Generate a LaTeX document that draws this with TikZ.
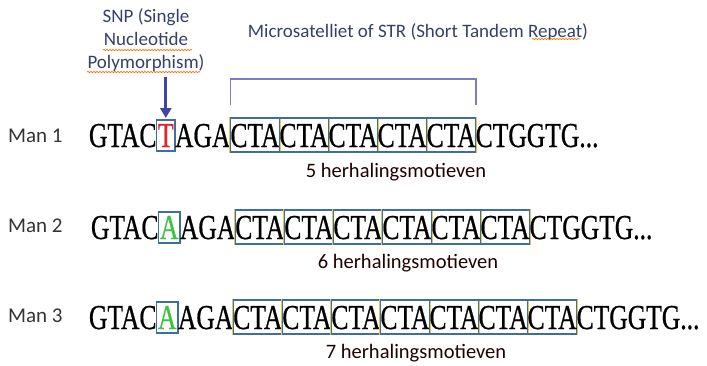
\documentclass[tikz,border=0pt]{standalone}
\usepackage{fontspec}
\setmainfont{Carlito}
\newfontfamily\seqfont[FakeStretch=0.73,FakeBold=0.6]{Liberation Serif}
\usetikzlibrary{positioning,arrows.meta,decorations.pathmorphing}
\definecolor{boxblue}{HTML}{3F6D9C}
\definecolor{boxgold}{HTML}{E6C84A}
\definecolor{bracketcol}{HTML}{7E7CC6}
\definecolor{arrowcol}{HTML}{3D47A3}
\definecolor{notecol}{HTML}{34406A}
\definecolor{snpred}{HTML}{E0262A}
\definecolor{snpgreen}{HTML}{3EC246}

\begin{document}
\begin{tikzpicture}[x=1pt,y=-1pt,
    seq/.style={inner sep=0pt, outer sep=0pt, text height=29pt, text depth=5pt, font=\seqfont\fontsize{35}{40}\selectfont},
    rptbox/.style={seq, draw=boxblue, line width=1.2pt, preaction={draw=boxgold, line width=2pt}},
    snpbox/.style={seq, draw=boxblue, line width=1.3pt, inner xsep=1.5pt, text height=27pt, text depth=4pt},
    note/.style={text=notecol, font=\fontsize{19}{23}\selectfont, inner sep=0pt},
    manlabel/.style={text=black!80, font=\fontsize{21}{24}\selectfont, inner sep=0pt, anchor=base west},
    count/.style={text=black!88!red, font=\fontsize{20.5}{24}\selectfont, inner sep=0pt},
    spell/.style={draw=orange!85!red, line width=0.7pt, decorate, decoration={snake, amplitude=0.6pt, segment length=3pt}}
    ]
    \useasboundingbox (0,0) rectangle (707,365);

    \node [note, align=center] (snp) at (146,40) {SNP (Single\\Nucleotide\\Polymorphism)};
    \node [note] (msat) at (418,32) {Microsatelliet of STR (Short Tandem Repeat)};
    \draw [spell] (103,50) -- (192,50);
    \draw [spell] (87,72) -- (200,72);
    \draw [spell] (532,39) -- (580,39);

    % Man 1
    \node [manlabel] (l1) at (8,142) {Man 1};
    \node [seq, anchor=base west] (g1) at (89,147) {GTAC};
    \node [snpbox, text=snpred, base right=0pt of g1] (p1) {T};
    \node [seq, base right=0pt of p1] (h1) {AGA};
    \node [rptbox, base right=0pt of h1] (r11) {CTA};
    \node [rptbox, base right=0pt of r11] (r12) {CTA};
    \node [rptbox, base right=0pt of r12] (r13) {CTA};
    \node [rptbox, base right=0pt of r13] (r14) {CTA};
    \node [rptbox, base right=0pt of r14] (r15) {CTA};
    \node [seq, base right=0pt of r15] (t1) {CTGGTG...};
    \node [count] (n1) at (396,172) {5 herhalingsmotieven};

    \draw [bracketcol, line width=1.6pt] ([yshift=13pt]r11.north west) -- ([yshift=39pt]r11.north west)
        -- ([yshift=39pt]r15.north east) -- ([yshift=13pt]r15.north east);
    \draw [arrowcol, line width=2.8pt, -{Triangle[width=11pt,length=10pt]}, shorten <=5pt, shorten >=2pt]
        (snp.south -| p1.north) -- (p1.north);

    % Man 2
    \node [manlabel] (l2) at (8,232) {Man 2};
    \node [seq, anchor=base west] (g2) at (91,239) {GTAC};
    \node [snpbox, text=snpgreen, base right=0pt of g2] (p2) {A};
    \node [seq, base right=0pt of p2] (h2) {AGA};
    \node [rptbox, base right=0pt of h2] (r21) {CTA};
    \node [rptbox, base right=0pt of r21] (r22) {CTA};
    \node [rptbox, base right=0pt of r22] (r23) {CTA};
    \node [rptbox, base right=0pt of r23] (r24) {CTA};
    \node [rptbox, base right=0pt of r24] (r25) {CTA};
    \node [rptbox, base right=0pt of r25] (r26) {CTA};
    \node [seq, base right=0pt of r26] (t2) {CTGGTG...};
    \node [count] (n2) at (408,263) {6 herhalingsmotieven};

    % Man 3
    \node [manlabel] (l3) at (8,322) {Man 3};
    \node [seq, anchor=base west] (g3) at (89,329) {GTAC};
    \node [snpbox, text=snpgreen, base right=0pt of g3] (p3) {A};
    \node [seq, base right=0pt of p3] (h3) {AGA};
    \node [rptbox, base right=0pt of h3] (r31) {CTA};
    \node [rptbox, base right=0pt of r31] (r32) {CTA};
    \node [rptbox, base right=0pt of r32] (r33) {CTA};
    \node [rptbox, base right=0pt of r33] (r34) {CTA};
    \node [rptbox, base right=0pt of r34] (r35) {CTA};
    \node [rptbox, base right=0pt of r35] (r36) {CTA};
    \node [rptbox, base right=0pt of r36] (r37) {CTA};
    \node [seq, base right=0pt of r37] (t3) {CTGGTG...};
    \node [count] (n3) at (416,353) {7 herhalingsmotieven};
\end{tikzpicture}
\end{document}
